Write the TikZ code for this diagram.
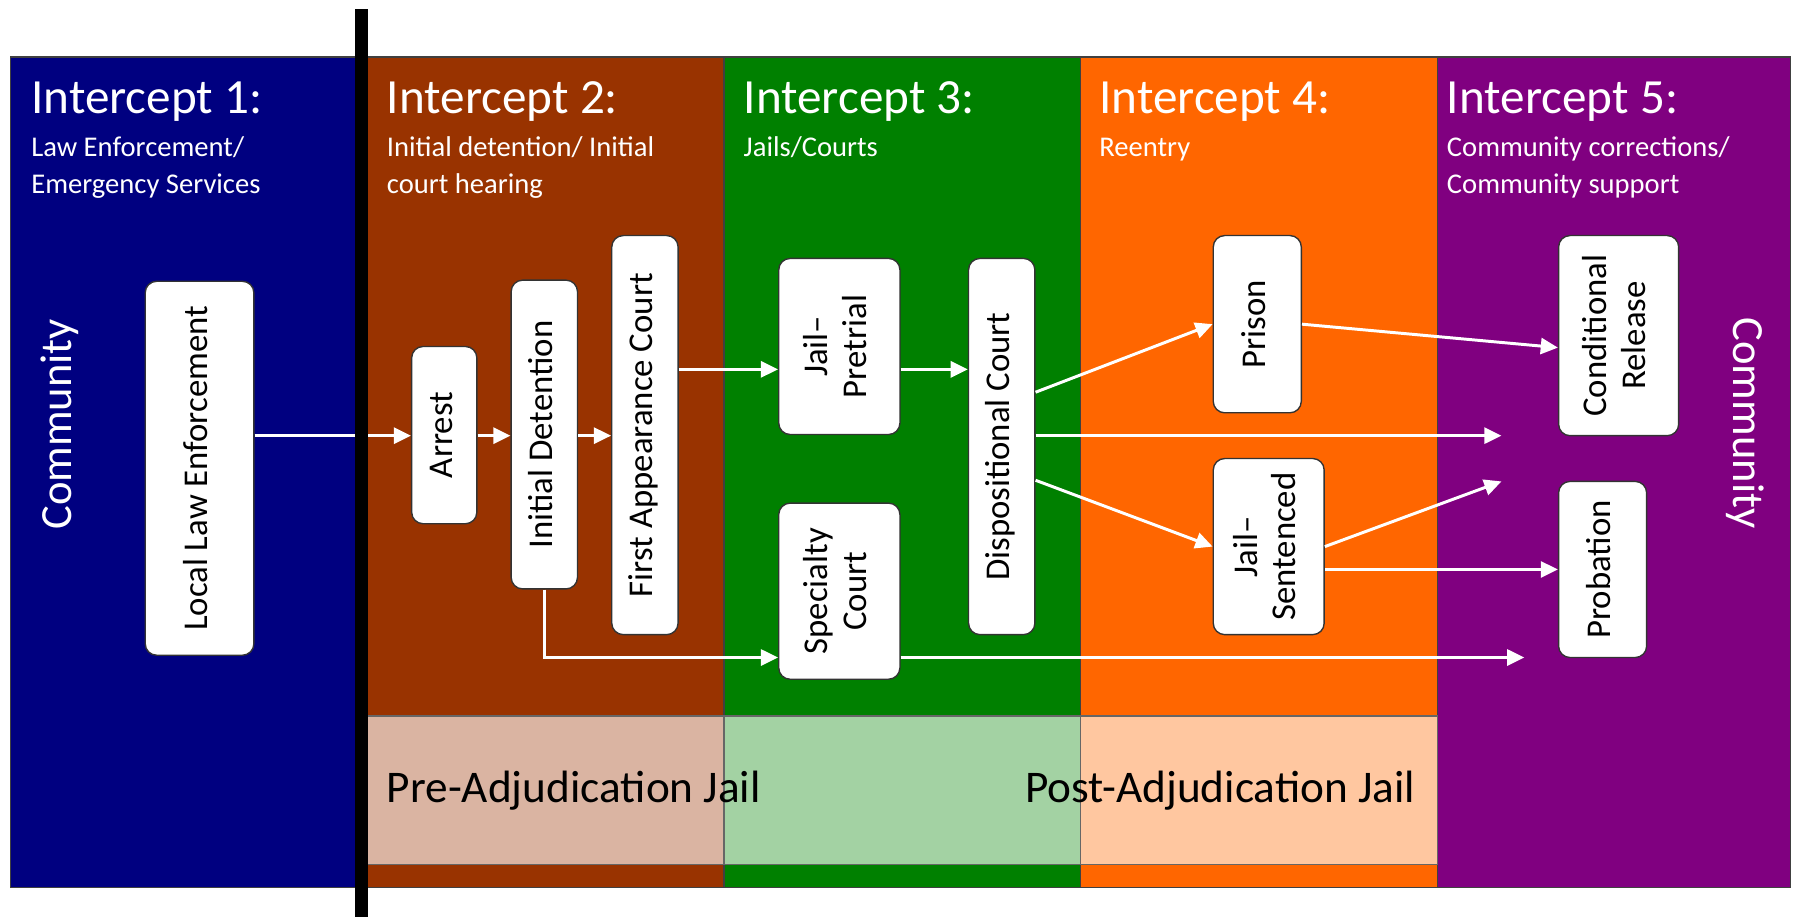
\documentclass[tikz,border=0pt]{standalone}
\usepackage{fontspec}
\setmainfont{Carlito}
\usetikzlibrary{arrows.meta}
\definecolor{cnavy}{HTML}{000080}
\definecolor{cbrown}{HTML}{993300}
\definecolor{cgreen}{HTML}{008000}
\definecolor{corange}{HTML}{FF6600}
\definecolor{cpurple}{HTML}{800080}
\definecolor{lbrown}{HTML}{DAB4A2}
\definecolor{lgreen}{HTML}{A3D2A3}
\definecolor{lorange}{HTML}{FFC7A0}
\newcommand{\rt}[1]{\rotatebox{90}{\begin{tabular}{@{}c@{}}#1\end{tabular}}}
\begin{document}
\begin{tikzpicture}[x=0.5pt,y=-0.5pt,
  col/.style={draw=black!75, line width=0.6pt},
  bandbox/.style={draw=black!60, line width=0.6pt},
  box/.style={draw=black!80, line width=0.6pt, fill=white, rounded corners=5pt, inner sep=0pt, font=\fontsize{15.2}{17}\selectfont},
  arr/.style={draw=white, line width=1.3pt, -{Triangle[length=7.5pt,width=7pt]}},
  ttl/.style={anchor=base west, inner sep=0pt, text=white, font=\fontsize{21.5}{24}\selectfont},
  sub/.style={anchor=base west, inner sep=0pt, text=white, font=\fontsize{12.5}{15}\selectfont},
  jail/.style={inner sep=0pt, text=black, font=\fontsize{19.8}{22}\selectfont},
  comm/.style={inner sep=0pt, text=white, font=\fontsize{19.5}{22}\selectfont}
  ]
\useasboundingbox (0,0) rectangle (1568,802);
\fill[white] (0,0) rectangle (1568,802);
% columns
\path[col, fill=cnavy] (9,50) rectangle (316,776);
\path[col, fill=cbrown] (316,50) rectangle (633,776);
\path[col, fill=cgreen] (633,50) rectangle (945,776);
\path[col, fill=corange] (945,50) rectangle (1257,776);
\path[col, fill=cpurple] (1257,50) rectangle (1566,776);
% bottom band
\path[bandbox, fill=lbrown] (316,626) rectangle (633,756);
\path[bandbox, fill=lgreen] (633,626) rectangle (945,756);
\path[bandbox, fill=lorange] (945,626) rectangle (1257,756);
\node[jail, anchor=base west] (pre) at (338,702) {Pre-Adjudication Jail};
\node[jail, anchor=base east] (post) at (1238,702) {Post-Adjudication Jail};
% titles
\node[ttl] (t1) at (27,99) {Intercept 1:};
\node[ttl] (t2) at (338,99) {Intercept 2:};
\node[ttl] (t3) at (650,99) {Intercept 3:};
\node[ttl] (t4) at (961,99) {Intercept 4:};
\node[ttl] (t5) at (1265,99) {Intercept 5:};
\node[sub] (s1a) at (27,137) {Law Enforcement/};
\node[sub] (s1b) at (27,169) {Emergency Services};
\node[sub] (s2a) at (338,137) {Initial detention/ Initial};
\node[sub] (s2b) at (338,169) {court hearing};
\node[sub] (s3a) at (650,137) {Jails/Courts};
\node[sub] (s4a) at (961,137) {Reentry};
\node[sub] (s5a) at (1265,137) {Community corrections/};
\node[sub] (s5b) at (1265,169) {Community support};
% community labels
\node[comm, rotate=90] (cl) at (52,371) {Community};
\node[comm, rotate=-90] (cr2) at (1526,370) {Community};
% boxes
\node[box, minimum width=47.5pt, minimum height=163.5pt] (lle) at (174.5,409.5) {\rt{Local Law Enforcement}};
\node[box, minimum width=28.5pt, minimum height=77.5pt] (arrest) at (388.5,380.5) {\rt{Arrest}};
\node[box, minimum width=29pt, minimum height=135pt] (initdet) at (476,380) {\rt{Initial Detention}};
\node[box, minimum width=29pt, minimum height=174.5pt] (fac) at (564,380.5) {\rt{First Appearance Court}};
\node[box, minimum width=53pt, minimum height=77pt] (jp) at (734,303) {\rt{Jail--\\Pretrial}};
\node[box, minimum width=53pt, minimum height=77pt] (sc) at (734,517) {\rt{Specialty\\Court}};
\node[box, minimum width=29pt, minimum height=164.5pt] (disp) at (876,390.5) {\rt{Dispositional Court}};
\node[box, minimum width=38.5pt, minimum height=77.5pt] (prison) at (1099.5,283.5) {\rt{Prison}};
\node[box, minimum width=48.5pt, minimum height=77pt] (js) at (1109.5,478) {\rt{Jail--\\Sentenced}};
\node[box, minimum width=52.5pt, minimum height=87.5pt] (cond) at (1415.5,293.5) {\rt{Conditional\\Release}};
\node[box, minimum width=38.5pt, minimum height=77pt] (prob) at (1401.5,498) {\rt{Probation}};
% levels and free ends
\coordinate (y381) at (0,381);
\coordinate (y323) at (0,323);
\coordinate (y575) at (0,575);
\coordinate (y343) at (0,343);
\coordinate (y420) at (0,420);
\coordinate (y304) at (0,304);
\coordinate (y498) at (0,498);
\coordinate (f1) at (1333,575);
\coordinate (f2) at (1313,381);
\coordinate (f3) at (1313,421);
% connectors
\draw[arr] (lle.east |- y381) -- (arrest.west |- y381);
\draw[arr] (arrest.east |- y381) -- (initdet.west |- y381);
\draw[arr] (initdet.east |- y381) -- (fac.west |- y381);
\draw[arr] (fac.east |- y323) -- (jp.west |- y323);
\draw[arr] (jp.east |- y323) -- (disp.west |- y323);
\draw[arr] (initdet.south) |- (sc.west |- y575);
\draw[arr] (sc.east |- y575) -- (f1);
\draw[arr] (disp.east |- y343) -- (prison.west);
\draw[arr] (disp.east |- y381) -- (f2);
\draw[arr] (disp.east |- y420) -- (js.west);
\draw[arr] (prison.east) -- (cond.west |- y304);
\draw[arr] (js.east) -- (f3);
\draw[arr] (js.east |- y498) -- (prob.west |- y498);
% black divider
\fill[black] (310.5,8) rectangle (322,802);
\end{tikzpicture}
\end{document}
